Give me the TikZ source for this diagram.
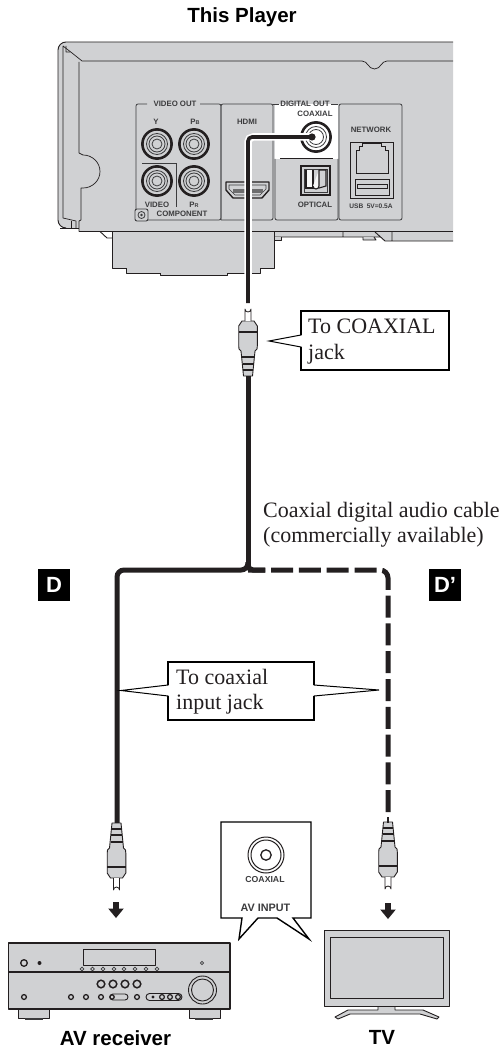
\documentclass[tikz,border=0pt]{standalone}
\usepackage{fontspec}
\setmainfont{Liberation Sans}
\newfontfamily\serifface{Liberation Serif}
\definecolor{panelgray}{RGB}{208,209,211}
\definecolor{inkdark}{RGB}{35,31,32}
\definecolor{inksoft}{RGB}{60,60,62}
\tikzset{
  caption/.style={inner sep=0pt,font=\fontsize{20.5}{24}\selectfont\bfseries,text=black},
  paneltext/.style={inner sep=0pt,font=\fontsize{7.8}{9}\selectfont\bfseries,text=inksoft},
  note/.style={inner sep=0pt,anchor=base west,font=\serifface\fontsize{22}{26}\selectfont,text=inkdark},
  tagbox/.style={fill=black,text=white,minimum width=32pt,minimum height=32pt,inner sep=0pt,font=\fontsize{22}{24}\selectfont\bfseries},
  outline/.style={draw=inkdark,line width=0.9pt,line join=round},
  callout/.style={draw=black,fill=white,line width=1pt,line join=miter},
  calloutedge/.style={draw=black,line width=1.8pt,line join=miter},
  bubble/.style={draw=black,fill=white,line width=1.4pt,line join=miter},
  panelline/.style={draw=inksoft,line width=0.8pt},
  cable/.style={draw=inkdark,line width=5pt},
  plugline/.style={draw=inkdark,line width=0.8pt,line join=round},
  rcajack/.pic={
    \draw[inkdark,line width=2.6pt,fill=panelgray] (0,0) circle[radius=14.6pt];
    \draw[inksoft,line width=0.8pt] (0,0) circle[radius=10.5pt];
    \draw[inksoft,line width=0.8pt] (0,0) circle[radius=8pt];
    \draw[inksoft,line width=0.8pt] (0,0) circle[radius=5pt];
  },
  rcaplug/.pic={
    \fill[panelgray,draw=inkdark,line width=0.9pt,line join=round]
      (-4.5,0) -- (4.5,0) -- (7,25) -- (9,27) -- (9.3,30) -- (9.3,50) -- (6,55) -- (-6,55) -- (-9.3,50) -- (-9.3,30) -- (-9,27) -- (-7,25) -- cycle;
    \fill[inkdark] (-5,5) rectangle (5,7);
    \fill[inkdark] (-5.5,11) rectangle (5.5,13);
    \fill[inkdark] (-6,18) rectangle (6,20);
    \fill[inkdark] (-9.3,43) rectangle (9.3,45);
    \draw[plugline,fill=white] (-3,55) -- (-3,67) arc[start angle=180,end angle=360,radius=3pt,y radius=-3pt] -- (3,55);
  },
  downarrow/.pic={
    \fill[inkdark] (-2.8,0) -- (2.8,0) -- (2.8,6.5) -- (7.8,6.5) -- (0,16) -- (-7.8,6.5) -- (-2.8,6.5) -- cycle;
  }
}
\begin{document}
\begin{tikzpicture}[x=1pt,y=-1pt]
\useasboundingbox[fill=white] (0,0) rectangle (503,1051);

% ---------- player: lower parts
\fill[panelgray] (274,231) -- (274,237) -- (380,237) -- (385,241) -- (453,241) -- (453,231) -- cycle;
\draw[outline] (274,237) -- (380,237) (375,232) -- (385,241) -- (453,241) (343,232) -- (343,237) (392,232) -- (392,241);
\draw[outline,fill=panelgray] (363,237) -- (363,240) -- (376,240) -- (374,237);
\draw[outline,fill=panelgray] (274,237) -- (274,240) -- (281,240) -- (281,237);
\draw[outline] (100,231.5) -- (107,238) -- (112,238);
\fill[panelgray,outline] (112,232) -- (112,268) -- (274,268) -- (274,232);
\fill[panelgray,outline] (126,268) -- (126,273) -- (260,273) -- (260,268);
\fill[panelgray,outline] (160,273) -- (160,275) -- (227,275) -- (227,273);

% ---------- player: main body
\fill[panelgray] (66,42) -- (453,42) -- (453,231) -- (79,231) -- (79,228) -- (66,228) [rounded corners=8pt] -- (58,228) -- (58,42) -- cycle;
\draw[outline] (453,42) -- (68,42) [rounded corners=8pt] -- (58,42) -- (58,228) -- (64,228);
\draw[outline] (60,228) -- (79,228);
\draw[outline] (79,231.5) -- (453,231.5);
\draw[outline,line width=0.7pt] (63,46) -- (63,218) (63,46) -- (72,53) -- (82,61) -- (362,61);
\draw[outline,line width=0.7pt] (362,61) .. controls (368,61) and (368,69) .. (374.5,69) .. controls (381,69) and (381,61) .. (387,61) -- (453,61);
\draw[outline,line width=0.7pt] (79,62) -- (79,153) -- (83,155) arc[start angle=-90,end angle=90,x radius=17pt,y radius=-16.5pt] -- (81,188) -- (81,220) -- (79,221) -- (79,231.5);
\draw[outline,line width=0.7pt] (66,46) -- (66,52) -- (70,52) (63,218) -- (76,221) -- (76,228);
\draw[outline,line width=0.7pt] (71,221) -- (71,228);

% ---------- player: panels
\fill[white] (275,104) rectangle (338,159);
\draw[panelline,rounded corners=2pt] (147,104) -- (136,104) -- (136,220) -- (221,220) -- (221,104) -- (200,104);
\draw[panelline,rounded corners=2pt] (221,220) -- (221,104) -- (273,104) -- (273,220) -- (221,220);
\draw[panelline,rounded corners=2pt] (275,159) -- (275,220) -- (338,220) -- (338,159);
\draw[panelline] (273,104) -- (279,104) (331,104) -- (338,104);
\draw[panelline,rounded corners=2pt] (339,220) -- (339,104) -- (402,104) -- (402,220) -- cycle;
\draw[inkdark,line width=1.6pt] (280,158.5) -- (333,158.5);

\node[paneltext] (lvideoout) at (175,104) {VIDEO OUT};
\node[paneltext] (ly) at (156,122) {Y};
\node[paneltext] (lpb) at (195,122) {P{\fontsize{5.5}{6}\selectfont B}};
\node[paneltext] (lvideo) at (157,205) {VIDEO};
\node[paneltext] (lpr) at (194,205) {P{\fontsize{5.5}{6}\selectfont R}};
\node[paneltext] (lcomponent) at (182,214) {COMPONENT};
\node[paneltext] (lhdmi) at (247,122) {HDMI};
\node[paneltext] (ldigital) at (305,104) {DIGITAL OUT};
\node[paneltext] (lcoax) at (315,114) {COAXIAL};
\node[paneltext] (loptical) at (315,205) {OPTICAL};
\node[paneltext] (lnetwork) at (371,130) {NETWORK};
\node[paneltext,font=\fontsize{6.6}{8}\selectfont\bfseries] (lusb) at (371,206) {USB\hspace{3.5pt}5V=0.5A};

\pic at (157,144) {rcajack};
\pic at (194,144) {rcajack};
\pic at (157,181) {rcajack};
\pic at (194,181) {rcajack};
\draw[inkdark,line width=2.6pt,fill=white] (316,137) circle[radius=14.6pt];
\draw[inksoft,line width=0.8pt] (316,137) circle[radius=10.5pt];
\draw[inksoft,line width=0.8pt] (316,137) circle[radius=7.5pt];

\draw[panelline] (142,163) -- (176,163) -- (176,207);
\draw[inksoft,line width=0.9pt,fill=panelgray,rounded corners=2pt] (135,209) rectangle (148,221);
\draw[inksoft,line width=0.8pt] (141.5,215) circle[radius=3.5pt];
\fill[inksoft] (141.5,215) circle[radius=1.4pt];

% HDMI
\draw[inkdark,line width=1.4pt,fill=panelgray,line join=round] (226,182) -- (269,182) -- (269,190) -- (262,198) -- (233,198) -- (226,190) -- cycle;
\draw[inksoft,line width=0.7pt] (229,185) -- (266,185) -- (266,189) -- (260,195) -- (235,195) -- (229,189) -- cycle;
\fill[inksoft!75] (233,188.5) rectangle (263,192.5);

% optical
\draw[inkdark,line width=1.1pt] (301,166) rectangle (330,195);
\draw[inksoft,line width=0.8pt,fill=panelgray] (304,169) rectangle (327,192);
\draw[inkdark,line width=1.1pt,fill=white!85!panelgray] (306,170) -- (306,188) -- (313,188) -- (313,170);
\draw[inkdark,line width=1.1pt,fill=white!85!panelgray] (319,170) -- (319,186) .. controls (319,190) and (313,190) .. (313,186);
\draw[inkdark,line width=1.1pt] (319,170) -- (326,170) -- (326,186) -- (319,188);

% network
\draw[inkdark,line width=1pt] (350,143) rectangle (393,198);
\draw[inkdark,line width=1pt] (356,174) -- (388,174) -- (388,151) -- (385,151) -- (385,147) -- (381,147) -- (381,144) -- (362,144) -- (362,147) -- (359,147) -- (359,151) -- (356,151) -- cycle;
\draw[inkdark,line width=1pt] (355,180) rectangle (389,195);
\draw[inkdark,line width=0.8pt] (357,184) -- (387,184) -- (387,188) -- (357,188) -- cycle;

% ---------- cable from the player
\coordinate (jackpin) at (312,137);
\coordinate (cablebend) at (248,137);
\coordinate (plugtip) at (248,303);
\draw[white,line width=7.5pt,rounded corners=5pt] (jackpin) -- (cablebend) -- (plugtip);
\draw[inkdark,line width=3.6pt,rounded corners=4pt] (jackpin) -- (cablebend) -- (plugtip);
\fill[inkdark] (jackpin) circle[radius=3.6pt];

% ---------- main cable
\coordinate (topplugend) at (248,376);
\coordinate (junction) at (248,570);
\coordinate (leftcorner) at (117,570);
\coordinate (leftplug) at (117,823);
\coordinate (rightcorner) at (388,570);
\coordinate (rightplug) at (388,817);
\pic[yscale=-1] at (topplugend) {rcaplug};
\draw[cable] (topplugend) -- (junction);
\draw[cable,rounded corners=7pt] (248,562) -- (junction) -- (leftcorner) -- (leftplug);
\draw[cable,rounded corners=5pt] (248,562) -- (junction) -- (265,570);
\draw[cable,rounded corners=8pt,dash pattern=on 22pt off 5.8pt,dash phase=4.7pt] (junction) -- (rightcorner) -- (rightplug);
\pic at (116.5,823) {rcaplug};
\pic at (388,822) {rcaplug};
\draw[inkdark,line width=2pt] (388,817) -- (388,823);
\pic at (116,902) {downarrow};
\pic at (388,903) {downarrow};

% ---------- callouts
\draw[callout] (301,311) -- (449,311) -- (449,370) -- (301,370) -- (301,347) -- (269,341) -- (301,335) -- cycle;
\draw[calloutedge] (301,335) -- (301,311) -- (449,311) -- (449,370) -- (301,370) -- (301,347);
\node[note] (tocoaxial) at (308,333) {To COAXIAL};
\node[note] (jackline) at (308,359) {jack};
\draw[callout] (168,662) -- (314,662) -- (314,685) -- (379,690) -- (314,696) -- (314,720) -- (168,720) -- (168,696) -- (121,690.5) -- (168,685) -- cycle;
\draw[calloutedge] (168,685) -- (168,662) -- (314,662) -- (314,685) (314,696) -- (314,720) -- (168,720) -- (168,696);
\node[note] (tocoaxialin) at (176,684) {To coaxial};
\node[note] (inputjack) at (176,709) {input jack};
\node[note] (cablename) at (263,517) {Coaxial digital audio cable};
\node[note] (cableavail) at (263,542) {(commercially available)};
\node[tagbox] (tagd) at (54,585) {D};
\node[tagbox] (tagdp) at (445,585) {D’};

% ---------- AV INPUT bubble
\draw[bubble] (221,822) -- (311,822) -- (311,918) -- (293,918) -- (309,939) -- (277,918) -- (258,918) -- (239,939) -- (242,918) -- (221,918) -- cycle;
\draw[inkdark,line width=1pt] (266,855) circle[radius=18pt];
\draw[inkdark,line width=1pt] (266,855) circle[radius=15pt];
\draw[inkdark,line width=1.3pt] (266,855) circle[radius=5.2pt];
\node[inner sep=0pt,font=\fontsize{8.7}{10}\selectfont\bfseries,text=inksoft] (bubblecoax) at (265,879.5) {COAXIAL};
\node[inner sep=0pt,font=\fontsize{10.8}{12}\selectfont\bfseries,text=inksoft] (bubbleav) at (265.5,908) {AV INPUT};

% ---------- AV receiver
\draw[outline,fill=panelgray] (18,1009) rectangle (49,1018);
\draw[outline,fill=panelgray] (189,1009) rectangle (220,1018);
\fill[inksoft] (25,1018) rectangle (43,1019.5);
\fill[inksoft] (195,1018) rectangle (213,1019.5);
\draw[outline,fill=panelgray,line width=1.2pt] (8.5,943) rectangle (230,1009);
\draw[outline,line width=1.6pt] (8.5,972) -- (230,972);
\draw[outline] (83,949) rectangle (155,965);
\foreach \cx in {82,92.5,103,114,124,135,146,157} \draw[inksoft,line width=0.7pt] (\cx,969) circle[radius=1.8pt];
\draw[inkdark,line width=1.3pt] (24,963) circle[radius=3.3pt];
\fill[inkdark] (39.5,963) circle[radius=2pt];
\draw[inksoft,line width=0.7pt] (202,963) circle[radius=1.7pt];
\foreach \cx in {101,113,125,137} \draw[inkdark,line width=1.5pt] (\cx,984) circle[radius=3.8pt];
\foreach \cx in {24,71,86,101,137} \draw[inkdark,line width=1.3pt] (\cx,997) circle[radius=2.4pt];
\draw[inkdark,line width=0.9pt,rounded corners=3pt] (110,994) rectangle (128,1000);
\draw[inkdark,line width=1.3pt] (112,997) circle[radius=2.2pt];
\draw[inkdark,line width=0.9pt,rounded corners=3.5pt] (146,993.5) rectangle (182,1000.5);
\fill[inkdark] (153,997) circle[radius=1.6pt];
\foreach \cx in {162,170,178} \draw[inkdark,line width=1.2pt] (\cx,997) circle[radius=2.4pt];
\draw[inkdark,line width=0.9pt] (202.5,990) circle[radius=14pt];
\draw[inkdark,line width=0.9pt] (202.5,990) circle[radius=11pt];
\node[caption] (avlabel) at (115.5,1038) {AV receiver};

% ---------- TV
\fill[panelgray] (378,1006) -- (378,1010) -- (348,1010) -- (335,1017) -- (338,1019) -- (350,1014) -- (420,1014) -- (437,1019) -- (439,1017) -- (423,1010) -- (395,1010) -- (395,1006) -- cycle;
\draw[outline] (378,1006) -- (378,1010) -- (348,1010) -- (335,1017) -- (338,1019) -- (350,1014) -- (420,1014) -- (437,1019) -- (439,1017) -- (423,1010) -- (395,1010) -- (395,1006);
\draw[outline,fill=panelgray] (324,930) rectangle (449,1006);
\draw[outline] (330,937) rectangle (443,998);
\node[caption] (tvlabel) at (382,1037) {TV};

% ---------- title
\node[caption] (title) at (242,17.5) {This Player};
\end{tikzpicture}
\end{document}
